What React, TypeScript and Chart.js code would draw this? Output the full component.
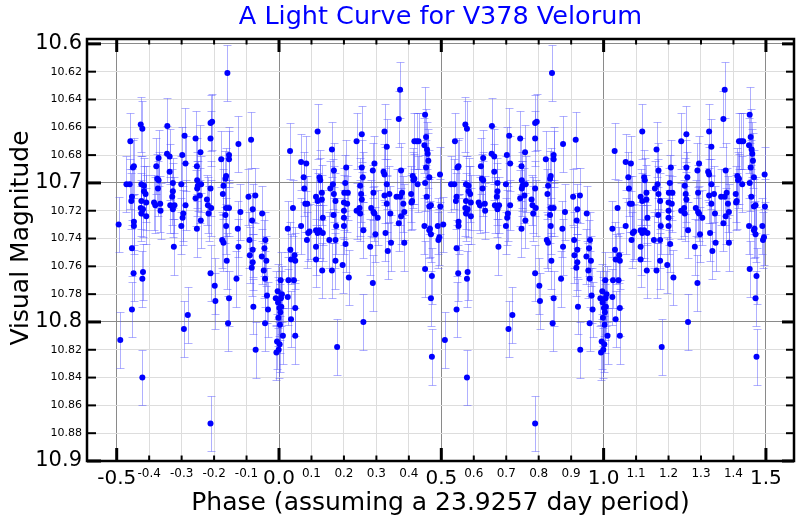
import React, { useEffect, useRef } from "react";
import { Chart, registerables } from "chart.js";

Chart.register(...registerables);

// [phase (0..1), visual magnitude, error]
const observations: [number, number, number][] = [
  [0.034,10.677,0.02],[0.043,10.718,0.02],[0.027,10.733,0.02],[0.035,10.748,0.02],[0.037,10.755,0.018],[0.048,10.752,0.02],[0.050,10.756,0.02],[0.029,10.770,0.02],[0.046,10.770,0.02],[0.027,10.782,0.02],[0.050,10.790,0.02],[0.037,10.798,0.02],[0.050,10.810,0.02],
  [0.068,10.685,0.02],[0.084,10.686,0.02],[0.076,10.696,0.018],[0.078,10.704,0.02],[0.081,10.715,0.02],[0.087,10.715,0.02],[0.068,10.731,0.02],[0.090,10.736,0.02],[0.094,10.735,0.02],[0.086,10.741,0.02],
  [0.119,10.663,0.02],[0.125,10.696,0.02],[0.127,10.698,0.016],[0.114,10.710,0.02],[0.119,10.713,0.02],[0.132,10.707,0.02],[0.132,10.712,0.018],[0.135,10.725,0.02],[0.114,10.734,0.02],[0.125,10.734,0.02],[0.119,10.736,0.02],[0.135,10.736,0.02],[0.114,10.746,0.02],[0.114,10.755,0.02],[0.133,10.763,0.02],
  [0.163,10.676,0.02],[0.169,10.691,0.02],[0.166,10.701,0.018],[0.158,10.704,0.02],[0.169,10.708,0.02],[0.174,10.713,0.02],[0.168,10.723,0.02],[0.176,10.731,0.02],[0.155,10.741,0.02],[0.174,10.741,0.02],[0.174,10.756,0.02],[0.163,10.763,0.02],[0.179,10.818,0.02],
  [0.207,10.689,0.02],[0.204,10.700,0.02],[0.201,10.707,0.018],[0.212,10.707,0.02],[0.200,10.714,0.02],[0.210,10.715,0.02],[0.200,10.720,0.02],[0.200,10.725,0.02],[0.200,10.731,0.02],[0.205,10.744,0.02],[0.196,10.759,0.02],[0.215,10.768,0.02],
  [0.239,10.670,0.02],[0.255,10.665,0.02],[0.255,10.689,0.02],[0.258,10.696,0.018],[0.250,10.702,0.02],[0.255,10.712,0.02],[0.239,10.720,0.02],[0.250,10.722,0.02],[0.248,10.718,0.02],[0.260,10.734,0.02],[0.260,10.800,0.02],[0.253,10.708,0.02],
  [0.289,10.691,0.02],[0.294,10.686,0.02],[0.291,10.707,0.02],[0.284,10.718,0.02],[0.291,10.721,0.018],[0.294,10.722,0.02],[0.304,10.725,0.02],[0.297,10.737,0.02],[0.281,10.746,0.02],[0.289,10.772,0.02],
  [0.325,10.663,0.02],[0.332,10.674,0.02],[0.322,10.692,0.02],[0.325,10.694,0.02],[0.332,10.701,0.018],[0.325,10.709,0.02],[0.340,10.708,0.02],[0.332,10.715,0.02],[0.343,10.722,0.02],[0.328,10.736,0.02],[0.345,10.743,0.02],[0.335,10.749,0.02],
  [0.373,10.633,0.02],[0.369,10.654,0.02],[0.376,10.691,0.02],[0.379,10.707,0.018],[0.362,10.710,0.02],[0.373,10.710,0.02],[0.383,10.715,0.02],[0.386,10.721,0.02],[0.376,10.724,0.02],[0.369,10.729,0.02],[0.386,10.743,0.02],
  [0.417,10.670,0.02],[0.424,10.670,0.02],[0.430,10.670,0.02],[0.412,10.695,0.02],[0.417,10.697,0.018],[0.427,10.701,0.02],[0.414,10.698,0.02],[0.407,10.708,0.02],[0.410,10.713,0.02],[0.408,10.714,0.02],
  [0.450,10.651,0.02],[0.453,10.667,0.02],[0.448,10.673,0.02],[0.456,10.676,0.02],[0.458,10.679,0.018],[0.460,10.684,0.02],[0.453,10.689,0.02],[0.463,10.696,0.02],[0.450,10.700,0.02],[0.455,10.710,0.02],[0.468,10.716,0.02],[0.463,10.717,0.02],[0.448,10.731,0.02],[0.465,10.733,0.02],[0.468,10.737,0.02],[0.463,10.734,0.02],[0.450,10.762,0.02],[0.471,10.767,0.02],[0.468,10.783,0.02],[0.471,10.825,0.02],
  [0.496,10.694,0.02],[0.497,10.717,0.02],[0.489,10.731,0.02],[0.506,10.730,0.02],[0.494,10.739,0.02],[0.491,10.741,0.02],[0.511,10.813,0.02],
  [0.542,10.670,0.02],[0.530,10.701,0.02],[0.540,10.701,0.018],[0.550,10.689,0.02],[0.553,10.688,0.02],[0.547,10.710,0.02],[0.545,10.713,0.02],[0.553,10.728,0.02],[0.553,10.731,0.02],[0.547,10.747,0.02],[0.552,10.765,0.02],[0.547,10.791,0.02],
  [0.574,10.658,0.02],[0.579,10.661,0.02],[0.576,10.701,0.02],[0.584,10.702,0.02],[0.584,10.706,0.018],[0.589,10.708,0.02],[0.576,10.713,0.02],[0.591,10.714,0.02],[0.574,10.718,0.02],[0.581,10.719,0.02],[0.576,10.722,0.02],[0.591,10.724,0.02],[0.581,10.764,0.02],[0.579,10.769,0.02],[0.579,10.840,0.02],
  [0.629,10.682,0.02],[0.622,10.688,0.02],[0.625,10.697,0.018],[0.629,10.698,0.02],[0.627,10.704,0.02],[0.615,10.714,0.02],[0.619,10.716,0.02],[0.634,10.715,0.02],[0.635,10.720,0.02],
  [0.656,10.659,0.02],[0.655,10.679,0.02],[0.663,10.681,0.02],[0.663,10.692,0.02],[0.673,10.700,0.018],[0.673,10.706,0.02],[0.671,10.710,0.02],[0.665,10.716,0.02],[0.678,10.716,0.02],[0.673,10.719,0.02],[0.676,10.746,0.02],
  [0.709,10.666,0.02],[0.702,10.680,0.02],[0.712,10.686,0.02],[0.699,10.701,0.02],[0.712,10.716,0.018],[0.705,10.722,0.02],[0.703,10.725,0.02],[0.699,10.731,0.02],[0.707,10.805,0.02],[0.719,10.795,0.02],
  [0.743,10.668,0.02],[0.758,10.678,0.02],[0.747,10.688,0.02],[0.748,10.698,0.02],[0.750,10.702,0.018],[0.760,10.701,0.02],[0.748,10.704,0.02],[0.743,10.711,0.02],[0.759,10.727,0.02],[0.747,10.733,0.02],[0.756,10.709,0.02],
  [0.789,10.657,0.02],[0.794,10.656,0.02],[0.789,10.668,0.02],[0.789,10.704,0.02],[0.778,10.712,0.018],[0.781,10.716,0.02],[0.791,10.718,0.02],[0.783,10.722,0.02],[0.789,10.765,0.02],[0.802,10.774,0.02],[0.804,10.785,0.02],[0.789,10.873,0.02],
  [0.822,10.683,0.02],[0.837,10.695,0.02],[0.835,10.697,0.02],[0.829,10.702,0.02],[0.827,10.708,0.018],[0.846,10.680,0.02],[0.846,10.683,0.02],[0.841,10.621,0.02],[0.837,10.718,0.02],[0.846,10.718,0.02],[0.835,10.723,0.02],[0.837,10.731,0.02],[0.825,10.741,0.02],[0.829,10.743,0.02],[0.839,10.756,0.02],[0.846,10.783,0.02],[0.843,10.801,0.02],
  [0.875,10.672,0.02],[0.881,10.721,0.02],[0.873,10.733,0.02],[0.875,10.746,0.02],[0.869,10.769,0.02],
  [0.914,10.669,0.02],[0.906,10.710,0.02],[0.927,10.709,0.02],[0.919,10.719,0.018],[0.917,10.727,0.02],[0.909,10.741,0.02],[0.919,10.748,0.02],[0.910,10.752,0.02],[0.919,10.757,0.02],[0.916,10.761,0.02],[0.921,10.789,0.02],[0.928,10.820,0.02],
  [0.948,10.722,0.02],[0.958,10.741,0.02],[0.955,10.747,0.02],[0.947,10.753,0.02],[0.961,10.756,0.018],[0.953,10.763,0.02],[0.957,10.769,0.02],[0.963,10.781,0.02],[0.966,10.791,0.02],[0.957,10.801,0.02],
  [0.990,10.783,0.02],[0.992,10.822,0.02],[0.994,10.814,0.02],[0.996,10.778,0.02],[0.997,10.786,0.018],[0.998,10.797,0.02],[0.999,10.820,0.02],[0.001,10.790,0.02],[0.002,10.816,0.02],[0.003,10.802,0.02],[0.005,10.770,0.02],[0.006,10.783,0.02],[0.007,10.789,0.02],[0.004,10.793,0.02],[0.009,10.780,0.02],[0.012,10.810,0.02],
];

const xTickValues = [-0.5,-0.4,-0.3,-0.2,-0.1,0.0,0.1,0.2,0.3,0.4,0.5,0.6,0.7,0.8,0.9,1.0,1.1,1.2,1.3,1.4,1.5];
const yTickValues = [10.6,10.62,10.64,10.66,10.68,10.7,10.72,10.74,10.76,10.78,10.8,10.82,10.84,10.86,10.88,10.9];
const xMajorStep = 0.5;
const yMajorStep = 0.1;

const titleText = "A Light Curve for V378 Velorum";
const xTitleText = "Phase (assuming a 23.9257 day period)";
const yTitleText = "Visual Magnitude";

const FONT = "DejaVu Sans";

const isMultiple = (v: number, step: number) => Math.abs(v / step - Math.round(v / step)) < 1e-6;

// Fold: each observation is drawn at its phase and repeated one period away
const points = observations.flatMap(([p, m, e]) => [
  { x: p, y: m, e },
  { x: p < 0.5 ? p + 1 : p - 1, y: m, e },
]);

const errorBars = {
  id: "errorBars",
  beforeDatasetsDraw(chart: any) {
    const { ctx, chartArea, scales } = chart;
    const xs = scales.x, ys = scales.y;
    ctx.save();
    ctx.beginPath();
    ctx.rect(chartArea.left, chartArea.top, chartArea.right - chartArea.left, chartArea.bottom - chartArea.top);
    ctx.clip();
    ctx.strokeStyle = "rgba(80,80,255,0.45)";
    ctx.lineWidth = 1;
    const cap = 4;
    for (const pt of points) {
      const px = Math.round(xs.getPixelForValue(pt.x)) + 0.5;
      const t = Math.round(ys.getPixelForValue(pt.y - pt.e)) + 0.5;
      const b = Math.round(ys.getPixelForValue(pt.y + pt.e)) + 0.5;
      ctx.beginPath();
      ctx.moveTo(px, t);
      ctx.lineTo(px, b);
      ctx.moveTo(px - cap, t);
      ctx.lineTo(px + cap, t);
      ctx.moveTo(px - cap, b);
      ctx.lineTo(px + cap, b);
      ctx.stroke();
    }
    ctx.restore();
  },
};

const frameAndTicks = {
  id: "frameAndTicks",
  afterDraw(chart: any) {
    const { ctx, chartArea, scales } = chart;
    const { left, right, top, bottom } = chartArea;
    ctx.save();
    ctx.fillStyle = "#000";
    for (const v of xTickValues) {
      const px = scales.x.getPixelForValue(v);
      if (isMultiple(v, xMajorStep)) {
        ctx.fillRect(px - 1.5, bottom - 13, 3, 13);
        ctx.fillRect(px - 1.5, top, 3, 13);
      } else {
        ctx.fillRect(px - 1, bottom - 5.5, 2, 5.5);
        ctx.fillRect(px - 1, top, 2, 5.5);
      }
    }
    for (const v of yTickValues) {
      const py = scales.y.getPixelForValue(v);
      if (isMultiple(v, yMajorStep)) {
        ctx.fillRect(left, py - 1.5, 14, 3);
        ctx.fillRect(right - 12, py - 1.5, 12, 3);
      } else {
        ctx.fillRect(left, py - 1, 9, 2);
        ctx.fillRect(right - 8, py - 1, 8, 2);
      }
    }
    ctx.strokeStyle = "#000";
    ctx.lineWidth = 2.5;
    ctx.strokeRect(left, top, right - left, bottom - top);

    // chart title, centred over the plot area
    ctx.font = `25.5px "${FONT}"`;
    ctx.textAlign = "center";
    ctx.textBaseline = "middle";
    ctx.fillStyle = "#0000ff";
    ctx.fillText(titleText, (left + right) / 2, 17.5);

    // y-axis title
    ctx.fillStyle = "#000";
    ctx.font = `25px "${FONT}"`;
    ctx.translate(21.5, 238);
    ctx.rotate(-Math.PI / 2);
    ctx.fillText(yTitleText, 0, 0);
    ctx.restore();
  },
};

export default function App() {
  const ref = useRef<HTMLCanvasElement | null>(null);
  useEffect(() => {
    if (!ref.current) return;
    const chart = new Chart(ref.current, {
      type: "scatter",
      data: {
        datasets: [
          {
            data: points,
            pointRadius: 3,
            pointHoverRadius: 3,
            backgroundColor: "#0000ff",
            borderWidth: 0,
            showLine: false,
          } as any,
        ],
      },
      options: {
        responsive: false,
        animation: false,
        events: [],
        layout: { padding: { left: 0, right: 6, top: 39, bottom: 0 } },
        plugins: {
          legend: { display: false },
          tooltip: { enabled: false },
          title: { display: false },
        },
        scales: {
          x: {
            type: "linear",
            min: -0.5915,
            max: 1.5865,
            afterBuildTicks: (scale: any) => {
              scale.ticks = xTickValues.map((value) => ({ value }));
            },
            afterFit: (scale: any) => {
              scale.height = 59;
            },
            border: { display: false },
            grid: {
              drawTicks: false,
              lineWidth: 1,
              color: (c: any) => (c.tick && isMultiple(c.tick.value, xMajorStep) ? "#8a8a8a" : "#dddddd"),
            },
            ticks: {
              autoSkip: false,
              maxRotation: 0,
              padding: 6,
              color: "#000",
              font: (c: any) => ({ family: FONT, size: c.tick && isMultiple(c.tick.value, xMajorStep) ? 20 : 12 }),
              callback: (v: any) => Number(v).toFixed(1),
            },
            title: {
              display: true,
              text: xTitleText,
              color: "#000",
              font: { family: FONT, size: 25, lineHeight: 1.2 },
              padding: { top: 0, bottom: 1.2 },
            },
          },
          y: {
            type: "linear",
            reverse: true,
            min: 10.5965,
            max: 10.9,
            afterBuildTicks: (scale: any) => {
              scale.ticks = yTickValues.map((value) => ({ value }));
            },
            afterFit: (scale: any) => {
              scale.width = 87;
            },
            border: { display: false },
            grid: {
              drawTicks: false,
              lineWidth: 1,
              color: (c: any) => (c.tick && isMultiple(c.tick.value, yMajorStep) ? "#8a8a8a" : "#dddddd"),
            },
            ticks: {
              autoSkip: false,
              padding: 5,
              color: "#000",
              font: (c: any) => ({ family: FONT, size: c.tick && isMultiple(c.tick.value, yMajorStep) ? 21 : 11 }),
              callback: (v: any) => (isMultiple(Number(v), yMajorStep) ? Number(v).toFixed(1) : Number(v).toFixed(2)),
            },
            title: { display: false },
          },
        },
      },
      plugins: [errorBars, frameAndTicks],
    });
    return () => chart.destroy();
  }, []);

  return (
    <div style={{ position: "absolute", left: 0, top: 0, width: 800, height: 520, background: "#fff" }}>
      <canvas ref={ref} width={800} height={520} style={{ display: "block" }} />
    </div>
  );
}
